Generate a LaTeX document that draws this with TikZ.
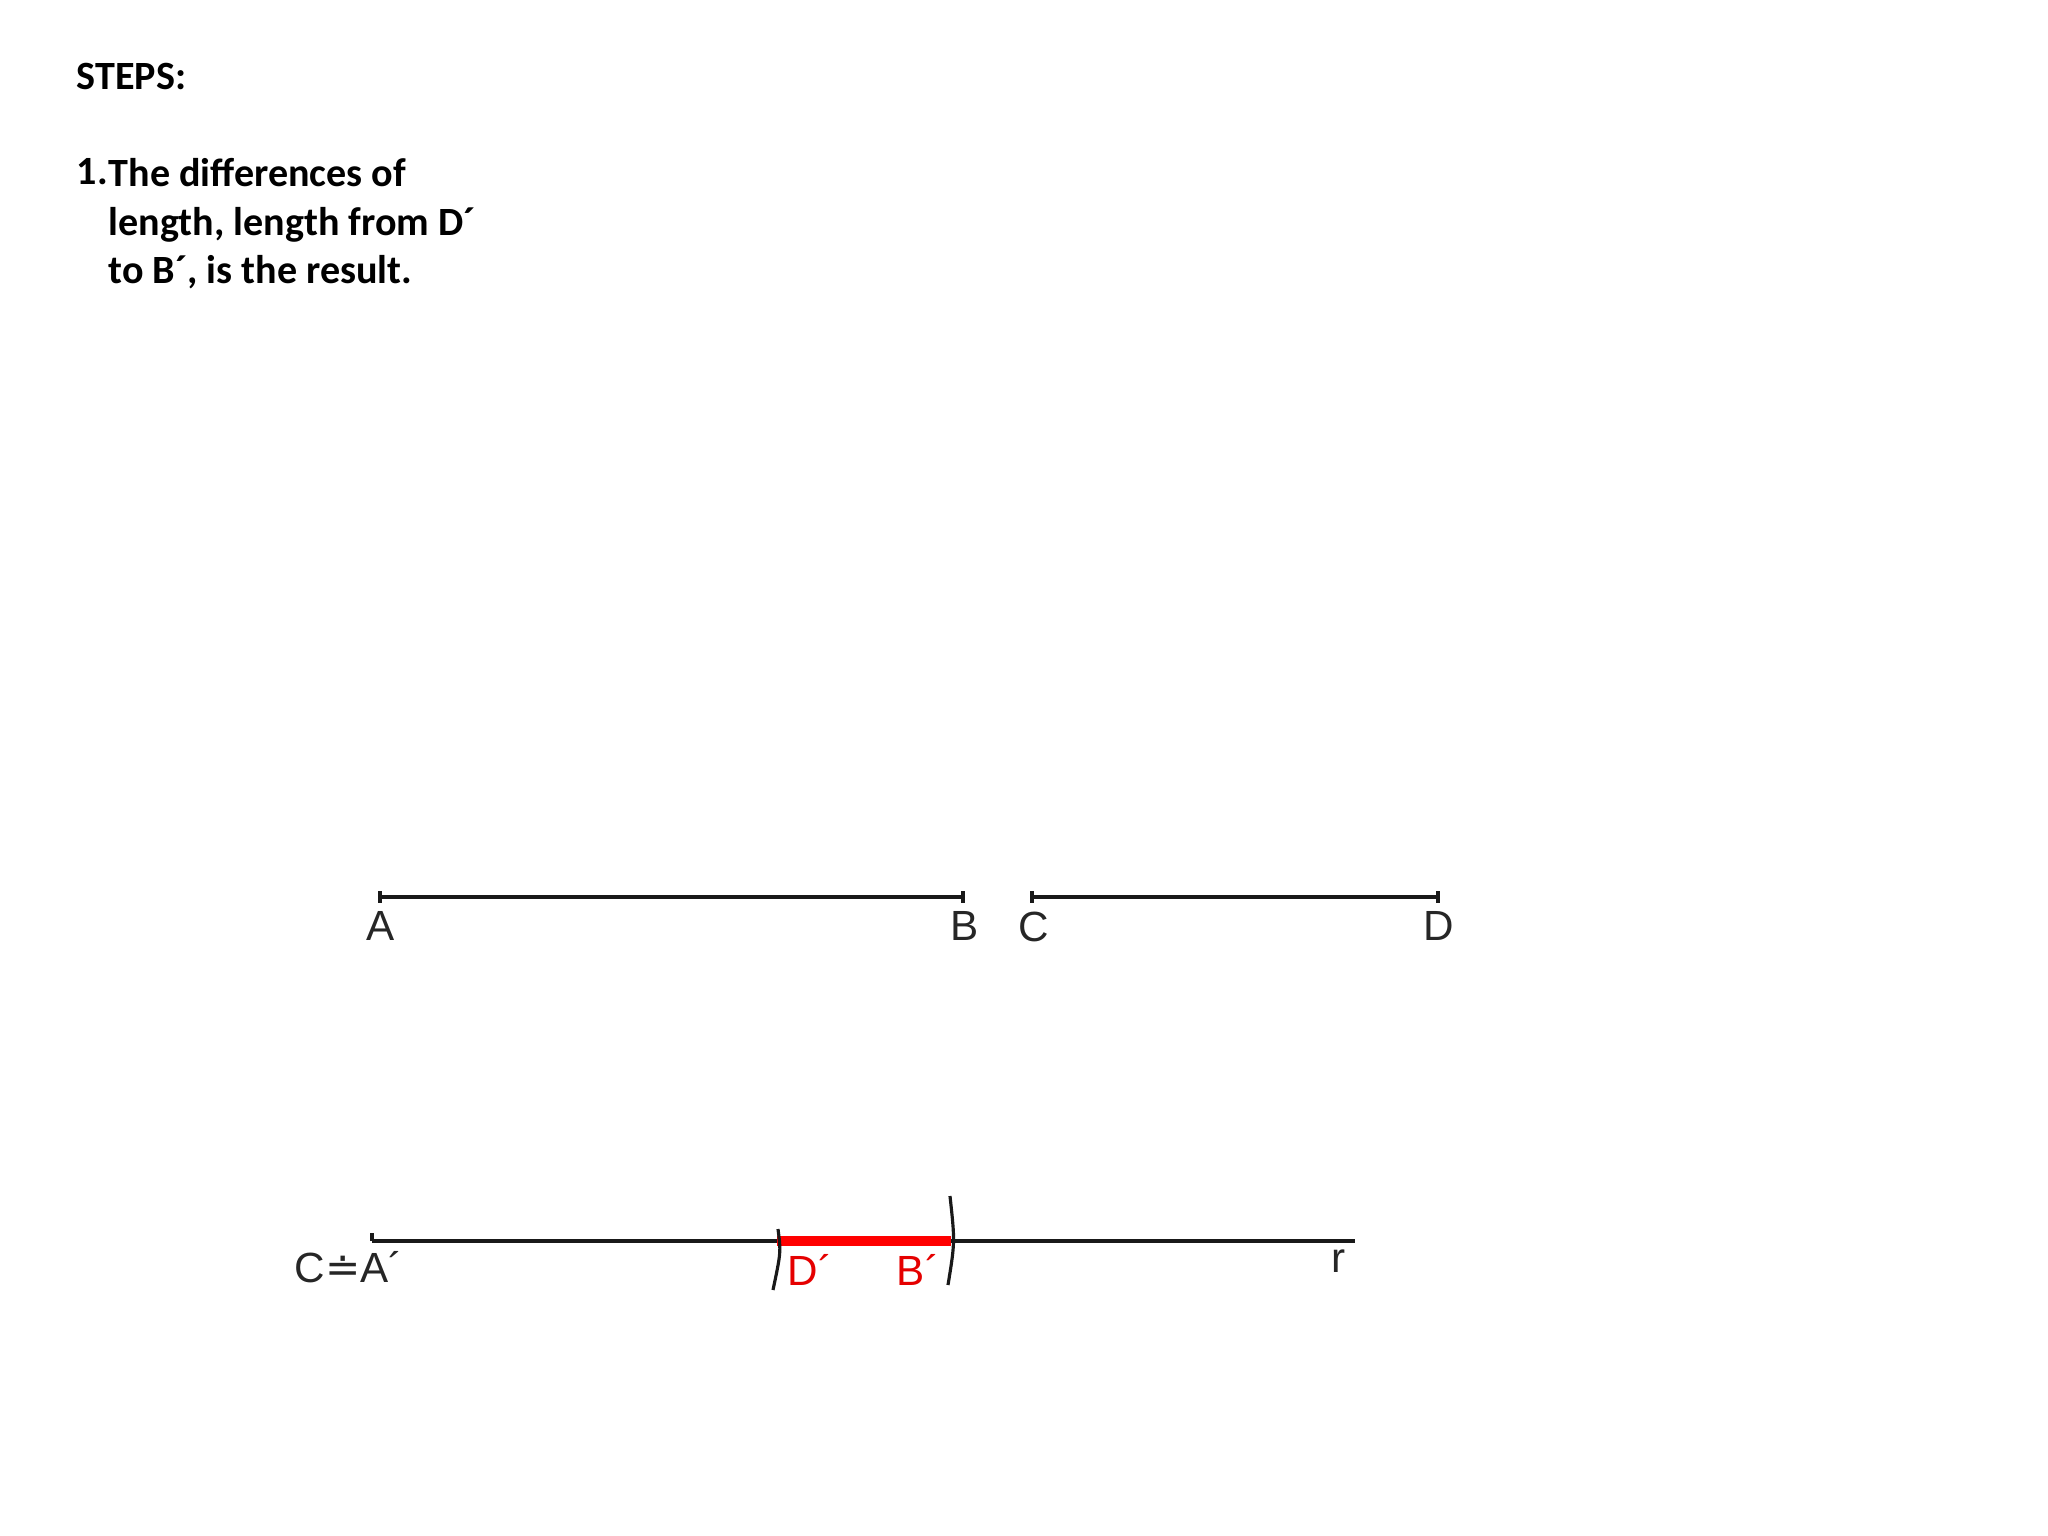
\documentclass[tikz,border=0pt]{standalone}
\usepackage{fontspec}
\setmainfont{Carlito}
\newfontfamily\labelfont{Liberation Sans}
\newfontfamily\symfont{DejaVu Sans}
\usepackage{tikz}
\usetikzlibrary{positioning}

\tikzset{
  seg/.style={line width=1pt, black!90},
  tick/.style={line width=0.9pt, black!90},
  ptlabel/.style={font=\labelfont\fontsize{12}{14}\selectfont, text=black!85, inner sep=0pt},
  redlabel/.style={ptlabel, text=red!90!black},
  arcmark/.style={line width=0.9pt, black!90},
}

\begin{document}
\begin{tikzpicture}[x=0.01cm, y=-0.01cm]
      \useasboundingbox (0,0) rectangle (2048,1536);
      % heading
      \node[anchor=north west, inner sep=0pt, font=\bfseries\fontsize{11.4}{13.7}\selectfont,
            align=left] (title) at (76,63) {STEPS:};
      \node[anchor=north west, inner sep=0pt, font=\bfseries\fontsize{11.4}{13.7}\selectfont] (num) at (76,158) {1.};
      \node[anchor=north west, inner sep=0pt, font=\bfseries\fontsize{11.4}{13.7}\selectfont,
            align=left] (step1) at (108,158) {The differences of\\length, length from D´\\to B´, is the result.};
      % given segments
      \coordinate (A) at (380,897);
      \coordinate (B) at (963,897);
      \coordinate (C) at (1032,897);
      \coordinate (D) at (1438,897);
      \draw[seg] (A) -- (B);
      \draw[seg] (C) -- (D);
      \foreach \p in {A,B,C,D}
        \draw[tick] (\p) ++(0,-6) -- ++(0,12);
      \node[ptlabel] (lA) at (381,926) {A};
      \node[ptlabel] (lB) at (965,926) {B};
      \node[ptlabel] (lC) at (1034,927) {C};
      \node[ptlabel] (lD) at (1439,926) {D};
      % line r
      \coordinate (Ap) at (372,1241);
      \coordinate (Dp) at (777,1241);
      \coordinate (Bp) at (951,1241);
      \coordinate (rend) at (1355,1241);
      \draw[seg] (Ap) -- (rend);
      \draw[tick] (Ap) -- ++(0,-8);
      \draw[red, line width=2.6pt] (Dp) -- (Bp);
      \draw[arcmark] (778,1229) .. controls (781,1252) .. (773,1290);
      \draw[arcmark] (950,1196) .. controls (955,1242) .. (948,1285);
      \node[ptlabel] (lAp) at (349,1267) {C{\symfont ≐}A´};
      \node[redlabel] (lDp) at (810,1270) {D´};
      \node[redlabel] (lBp) at (918,1270) {B´};
      \node[ptlabel] (lr) at (1339,1261) {r};
    \end{tikzpicture}
\end{document}
